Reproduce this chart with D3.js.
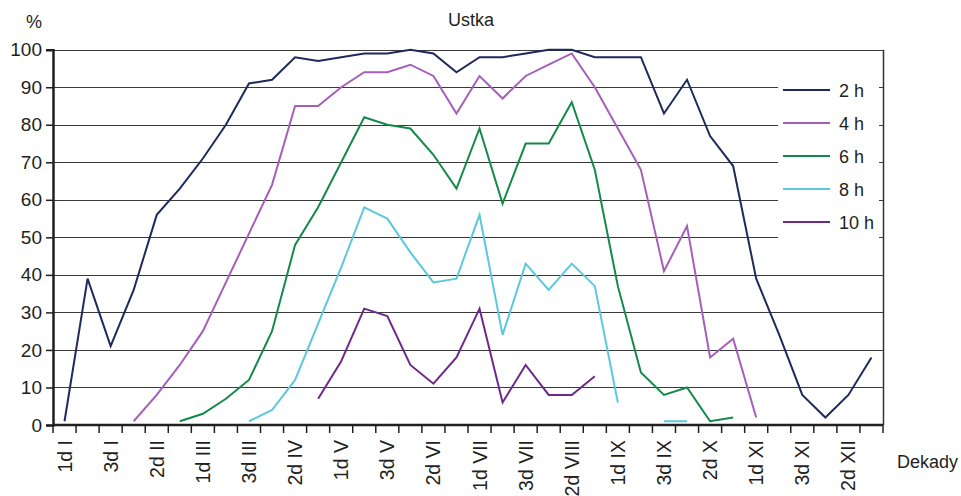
<!DOCTYPE html>
<html>
<head>
<meta charset="utf-8">
<script src="https://cdn.jsdelivr.net/npm/d3@7"></script>
<style>
  body { margin: 0; background: #fff; }
  svg { display: block; font-family: "Liberation Sans", Arial, sans-serif; }
  text { fill: #231f20; }
</style>
</head>
<body>
<div id="chart"></div>
<script>
// dekady (10-day periods) for the whole year
const dekady = [
    '1d I', '2d I', '3d I', '1d II', '2d II', '3d II',
    '1d III', '2d III', '3d III', '1d IV', '2d IV', '3d IV',
    '1d V', '2d V', '3d V', '1d VI', '2d VI', '3d VI',
    '1d VII', '2d VII', '3d VII', '1d VIII', '2d VIII', '3d VIII',
    '1d IX', '2d IX', '3d IX', '1d X', '2d X', '3d X',
    '1d XI', '2d XI', '3d XI', '1d XII', '2d XII', '3d XII'
];

const yTicks = [0, 10, 20, 30, 40, 50, 60, 70, 80, 90, 100];

const seriesNames = ['2 h', '4 h', '6 h', '8 h', '10 h'];
const seriesColors = ['#1f2a5c', '#a55fb8', '#15894a', '#5cc8dc', '#6d2a8c'];

const h2 = [1, 39, 21, 36, 56, 63, 71, 80, 91, 92, 98, 97, 98, 99, 99, 100, 99, 94,
    98, 98, 99, 100, 100, 98, 98, 98, 83, 92, 77, 69, 39, 24, 8, 2, 8, 18];
const h4 = [null, null, null, 1, 8, 16, 25, 38, 51, 64, 85, 85, 90, 94, 94, 96, 93, 83,
    93, 87, 93, 96, 99, 90, 79, 68, 41, 53, 18, 23, 2, null, null, null, null, null];
const h6 = [null, null, null, null, null, 1, 3, 7, 12, 25, 48, 58, 70, 82, 80, 79, 72, 63,
    79, 59, 75, 75, 86, 68, 37, 14, 8, 10, 1, 2, null, null, null, null, null, null];
const h8 = [null, null, null, null, null, null, null, null, 1, 4, 12, 27, 42, 58, 55, 46, 38, 39,
    56, 24, 43, 36, 43, 37, 6, null, 1, 1, null, null, null, null, null, null, null, null];
const h10 = [null, null, null, null, null, null, null, null, null, null, null, 7, 17, 31, 29, 16, 11, 18,
    31, 6, 16, 8, 8, 13, null, null, null, null, null, null, null, null, null, null, null, null];

const allSeries = [h2, h4, h6, h8, h10];

const width = 961, height = 496;
const plot = {left: 53, right: 883, top: 49.7, bottom: 425};

const svg = d3.select('#chart').append('svg')
    .attr('width', width)
    .attr('height', height);

const x = d3.scaleBand()
    .domain(dekady)
    .range([plot.left, plot.right])
    .padding(0);

const y = d3.scaleLinear()
    .domain([0, 100])
    .range([plot.bottom, plot.top]);

const cx = d => x(d) + x.bandwidth() / 2;

// gridlines
svg.append('g')
    .selectAll('line')
    .data(yTicks.filter(t => t > 0))
    .enter().append('line')
    .attr('x1', plot.left)
    .attr('x2', plot.right)
    .attr('y1', d => Math.round(y(d)) + 0.5)
    .attr('y2', d => Math.round(y(d)) + 0.5)
    .attr('stroke', '#3a3a3a')
    .attr('stroke-width', 1.2);

// right border
svg.append('line')
    .attr('x1', plot.right + 0.5).attr('x2', plot.right + 0.5)
    .attr('y1', y(100)).attr('y2', plot.bottom)
    .attr('stroke', '#333').attr('stroke-width', 1.5);

// y axis
const yAxis = d3.axisLeft(y)
    .tickValues(yTicks)
    .tickSize(7)
    .tickPadding(4);

const yG = svg.append('g')
    .attr('transform', `translate(${plot.left},0)`)
    .call(yAxis);
yG.select('.domain').attr('stroke', '#231f20').attr('stroke-width', 2.5);
yG.selectAll('.tick line').attr('stroke', '#231f20').attr('stroke-width', 1.5);
yG.selectAll('.tick text')
    .attr('font-size', 19)
    .attr('font-family', '"Liberation Sans", Arial, sans-serif')
    .attr('fill', '#231f20');

// x axis: ticks on band boundaries, labels on every other dekada
const xG = svg.append('g');
xG.append('line')
    .attr('x1', plot.left).attr('x2', plot.right)
    .attr('y1', plot.bottom).attr('y2', plot.bottom)
    .attr('stroke', '#231f20').attr('stroke-width', 2.5);

const boundaries = dekady.map(d => x(d)).concat([plot.right]);
xG.selectAll('.xtick')
    .data(boundaries)
    .enter().append('line')
    .attr('class', 'xtick')
    .attr('x1', d => d).attr('x2', d => d)
    .attr('y1', plot.bottom).attr('y2', plot.bottom + 8)
    .attr('stroke', '#231f20').attr('stroke-width', 1.5);

xG.selectAll('.xlabel')
    .data(dekady.filter((d, i) => i % 2 === 0))
    .enter().append('text')
    .attr('class', 'xlabel')
    .attr('transform', d => `translate(${cx(d) + 7},440) rotate(-90)`)
    .attr('text-anchor', 'end')
    .attr('font-size', 19.5)
    .text(d => d);

// legend box (covers gridlines)
const legend = svg.append('g');
legend.append('rect')
    .attr('x', 778).attr('y', 70)
    .attr('width', 101).attr('height', 175)
    .attr('fill', '#fff');

// series lines
const line = d3.line()
    .defined(d => d.v !== null)
    .x(d => cx(d.k))
    .y(d => y(d.v));

allSeries.forEach((s, i) => {
    svg.append('path')
        .datum(s.map((v, j) => ({k: dekady[j], v: v})))
        .attr('fill', 'none')
        .attr('stroke', seriesColors[i])
        .attr('stroke-width', 2)
        .attr('stroke-linejoin', 'miter')
        .attr('d', line);
});

seriesNames.forEach((name, i) => {
    const ly = 90 + i * 33;
    legend.append('line')
        .attr('x1', 783).attr('x2', 830)
        .attr('y1', ly).attr('y2', ly)
        .attr('stroke', seriesColors[i])
        .attr('stroke-width', 2);
    legend.append('text')
        .attr('x', 839).attr('y', ly + 6.5)
        .attr('font-size', 18)
        .text(name);
});

// titles
svg.append('text')
    .attr('x', 471).attr('y', 26)
    .attr('text-anchor', 'middle')
    .attr('font-size', 18)
    .text('Ustka');

svg.append('text')
    .attr('x', 26).attr('y', 28)
    .attr('font-size', 18)
    .text('%');

svg.append('text')
    .attr('x', 897).attr('y', 468)
    .attr('font-size', 18)
    .text('Dekady');
</script>
</body>
</html>
